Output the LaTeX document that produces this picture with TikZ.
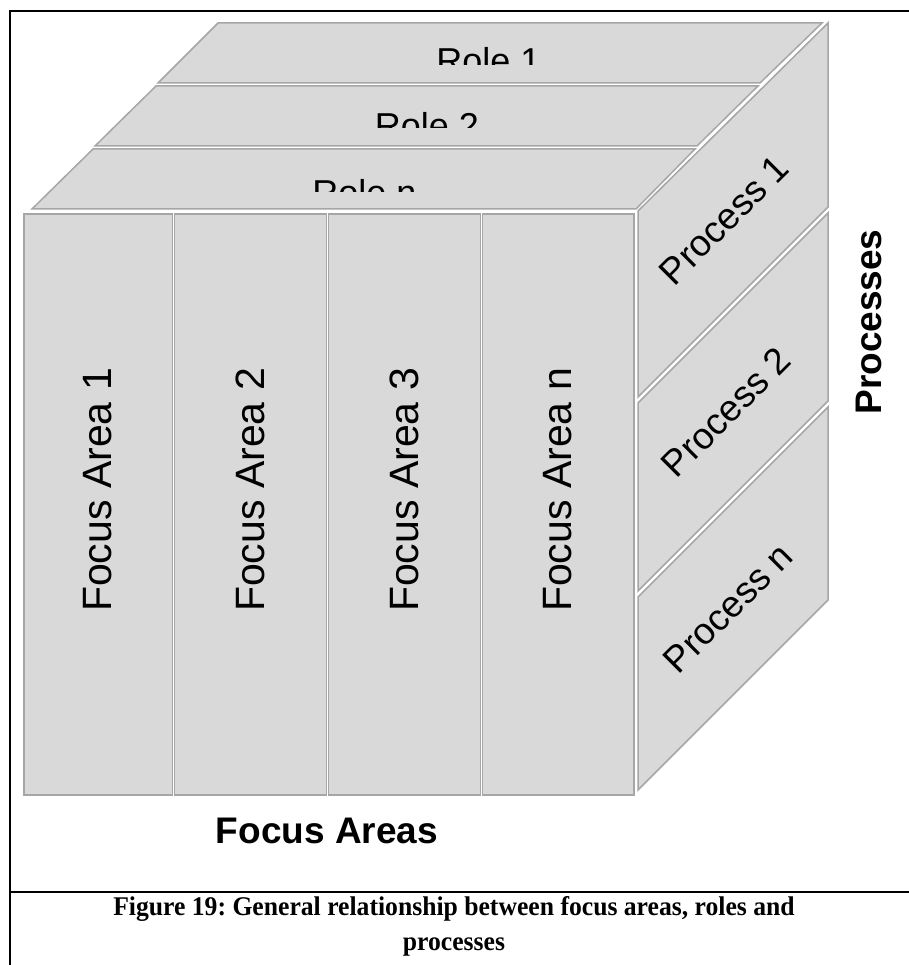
\documentclass[tikz,border=0pt]{standalone}
\usepackage{fontspec}
\setmainfont{Liberation Sans}
\newfontfamily\captionserif{Liberation Serif}
\definecolor{facegray}{HTML}{D9D9D9}
\definecolor{edgegray}{HTML}{A6A6A6}
\frenchspacing

\begin{document}
\begin{tikzpicture}[x=1pt, y=-1pt,
  face/.style={fill=facegray, draw=edgegray, line width=1.5pt, line join=miter},
  frameline/.style={draw=black, line width=2pt},
  bandtext/.style={font=\fontsize{36}{40}\selectfont, inner sep=0pt, anchor=base},
  columntext/.style={font=\fontsize{41}{46}\selectfont, inner sep=0pt, rotate=90},
  processtext/.style={font=\fontsize{37}{41}\selectfont, inner sep=0pt, rotate=45},
  axistext/.style={font=\bfseries\fontsize{37}{42}\selectfont, inner sep=0pt},
  captiontext/.style={font=\captionserif\bfseries\fontsize{27}{31}\selectfont, inner sep=0pt, anchor=base, xscale=0.95}]
\useasboundingbox (0,0) rectangle (908,965);

% outer frame and caption separator
\coordinate (ftl) at (10,11.5);
\coordinate (ftr) at (912,11.5);
\coordinate (fbl) at (10,970);
\coordinate (fsl) at (10,891.5);
\coordinate (fsr) at (912,891.5);
\draw[frameline] (ftr) -- (ftl) -- (fbl);
\draw[frameline] (fsl) -- (fsr);

% top face: roles
\path[face] (218,23) -- (822,23) -- (760,83) -- (158,83) -- cycle;
\path[face] (156,86) -- (758,86) -- (697,146) -- (95,146) -- cycle;
\path[face] (93,149) -- (695,149) -- (636,209) -- (32,209) -- cycle;

% role labels, cut off below by their text boxes
\begin{scope}
  \clip (100,23) rectangle (820,65);
  \node[bandtext] (role1) at (488.5,74) {Role 1};
\end{scope}
\begin{scope}
  \clip (100,86) rectangle (760,128);
  \node[bandtext] (role2) at (427,139) {Role 2};
\end{scope}
\begin{scope}
  \clip (40,149) rectangle (700,192);
  \node[bandtext] (rolen) at (364.5,206) {Role n};
\end{scope}

% right face: processes
\path[face] (638,211) -- (828,23) -- (828,207) -- (638,397) -- cycle;
\path[face] (638,403) -- (828,213) -- (828,401) -- (638,591) -- cycle;
\path[face] (638,597) -- (828,407) -- (828,600) -- (638,790) -- cycle;

\node[processtext] (proc1) at (724,220) {Process 1};
\node[processtext] (proc2) at (726,412) {Process 2};
\node[processtext] (procn) at (728,608) {Process n};

% front face: focus areas
\path[face] (24,214) rectangle (172.5,795);
\path[face] (174.5,214) rectangle (326.5,795);
\path[face] (328.5,214) rectangle (480.5,795);
\path[face] (482.5,214) rectangle (634,795);

\node[columntext] (fa1) at (98,490) {Focus Area 1};
\node[columntext] (fa2) at (250.5,490) {Focus Area 2};
\node[columntext] (fa3) at (404.5,490) {Focus Area 3};
\node[columntext] (fan) at (558,490) {Focus Area n};

% axis titles
\node[axistext, anchor=base] (focusareas) at (327,843) {Focus Areas};
\node[axistext, rotate=90] (processes) at (869,322) {Processes};

% caption
\node[captiontext] (cap1) at (454,915) {Figure 19: General relationship between focus areas, roles and};
\node[captiontext] (cap2) at (454,950) {processes};
\end{tikzpicture}
\end{document}
